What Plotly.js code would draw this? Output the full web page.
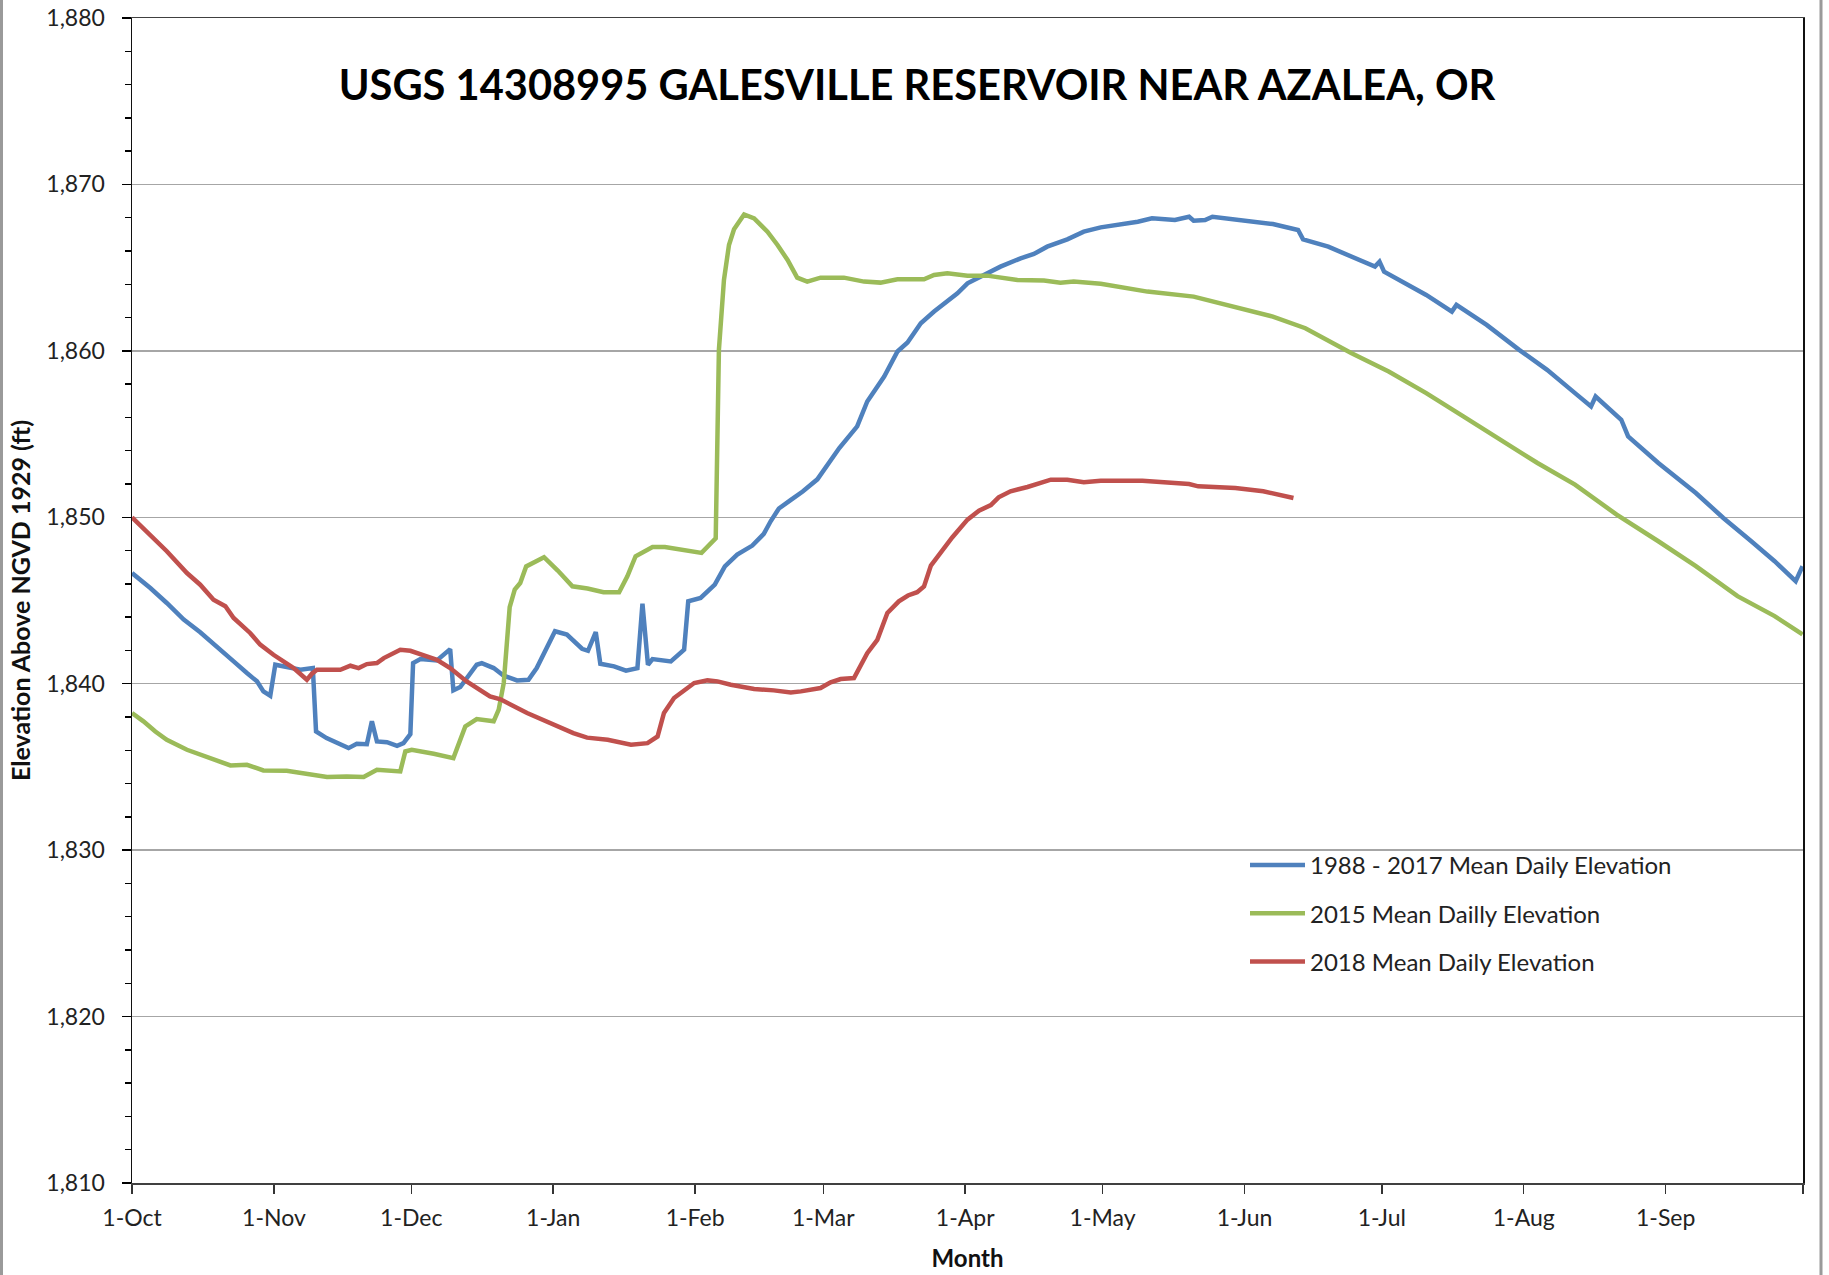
<!DOCTYPE html>
<html>
<head>
<meta charset="utf-8">
<script src="https://cdn.plot.ly/plotly-3.0.1.min.js"></script>
<style>html,body{margin:0;padding:0;background:#fff;}#chart{width:1829px;height:1275px;}</style>
</head>
<body>
<div id="chart"></div>
<script>
// Day of water year (0 = 1-Oct) and elevation (ft above NGVD 1929)
const monthTickDays = [0, 31, 61, 92, 123, 151, 182, 212, 243, 273, 304, 335, 365];
const monthTickLabels = ['1-Oct','1-Nov','1-Dec','1-Jan','1-Feb','1-Mar','1-Apr','1-May','1-Jun','1-Jul','1-Aug','1-Sep',''];

const seriesNames = ['1988 - 2017 Mean Daily Elevation', '2015 Mean Dailly Elevation', '2018 Mean Daily Elevation'];

const daysMean = [0,4,7.6,11.3,14.9,18.6,22.2,25.1,27.3,28.7,30.2,31.3,32.4,36.8,39.5,40.2,42.5,47.3,49.1,51.3,52.4,53.5,55.7,57.9,59.3,60.8,61.4,63,66.6,69.5,70.2,71.7,75.3,76.4,79,81.2,84.1,86.6,88.4,92.4,95,98.3,99.6,101.3,102.3,105.3,107.9,110.4,111.5,112.7,113.7,117.7,120.6,121.5,124.2,127.3,129.5,132.2,135.5,138,139.5,141.3,144,146.5,149.7,152.2,154.5,158.4,160.6,164.3,167.2,169.4,172.3,175.2,178.1,180.3,182.5,186.1,189.7,194.1,197,199.9,204.3,207.9,211.6,219.7,222.8,227.8,230.9,231.9,234.4,236,242.1,249.2,254.7,255.8,261.3,271.5,272.5,273.5,282.7,288.3,289.3,295.9,303,309.1,315.2,318.7,319.7,325.3,326.8,333.4,341.6,347.6,353.7,358.8,363.4,364.9];
const elevMean = [1846.65,1845.75,1844.85,1843.85,1843.09,1842.24,1841.34,1840.64,1840.14,1839.54,1839.28,1841.14,1841.08,1840.84,1840.94,1837.13,1836.73,1836.13,1836.39,1836.37,1837.74,1836.53,1836.49,1836.27,1836.43,1836.97,1841.24,1841.48,1841.4,1842.08,1839.6,1839.8,1841.14,1841.24,1840.94,1840.48,1840.2,1840.24,1840.94,1843.15,1842.95,1842.1,1841.98,1843.1,1841.2,1841.04,1840.78,1840.94,1844.81,1841.14,1841.48,1841.34,1842.04,1844.95,1845.15,1845.95,1847.05,1847.76,1848.3,1849.0,1849.76,1850.53,1851.06,1851.55,1852.28,1853.25,1854.16,1855.46,1856.96,1858.46,1859.96,1860.5,1861.66,1862.36,1862.96,1863.46,1864.06,1864.56,1865.06,1865.56,1865.82,1866.26,1866.7,1867.16,1867.42,1867.76,1867.96,1867.86,1868.06,1867.82,1867.86,1868.06,1867.86,1867.62,1867.26,1866.7,1866.26,1865.06,1865.36,1864.76,1863.36,1862.36,1862.76,1861.56,1860.06,1858.86,1857.46,1856.66,1857.26,1855.86,1854.86,1853.26,1851.46,1849.96,1848.56,1847.36,1846.16,1847.06];

const days2015 = [0,2.5,5.1,7.6,12,14.9,18.6,21.5,25.1,28.7,33.8,38.2,42.6,46.9,50.6,53.5,57.1,58.6,59.7,61.1,65.9,70.2,72.8,75.3,79,80.1,81.2,82.5,83.6,84.8,86.1,90,93,96.2,99.5,103,106.4,108.2,110,113.7,116.4,120.6,124.4,127.5,128.2,129.3,130.4,131.5,133.7,135.9,138.8,141,143.2,145.3,147.5,150.4,155.5,159.9,163.5,167.2,173,175.2,178.1,182.5,186.8,193.4,199.2,202.8,205.7,211.6,221.8,231.9,242.1,249.2,256.3,266.4,274.5,282.7,290.8,298.9,307,315.2,324.3,333.4,341.6,350.7,358.8,364.9];
const elev2015 = [1838.24,1837.74,1837.13,1836.63,1836.03,1835.73,1835.33,1835.09,1835.13,1834.79,1834.77,1834.59,1834.39,1834.43,1834.39,1834.83,1834.73,1834.73,1835.93,1836.03,1835.79,1835.53,1837.43,1837.88,1837.74,1838.44,1840.04,1844.6,1845.65,1846.05,1847.05,1847.6,1846.8,1845.85,1845.72,1845.5,1845.49,1846.45,1847.66,1848.22,1848.21,1848.02,1847.86,1848.73,1860.06,1864.26,1866.36,1867.3,1868.2,1867.96,1867.16,1866.36,1865.46,1864.4,1864.16,1864.4,1864.4,1864.16,1864.1,1864.3,1864.3,1864.56,1864.66,1864.52,1864.52,1864.26,1864.22,1864.1,1864.16,1864.03,1863.56,1863.26,1862.56,1862.06,1861.36,1859.86,1858.76,1857.46,1856.06,1854.66,1853.26,1851.96,1850.16,1848.56,1847.06,1845.26,1844.06,1842.96];

const days2018 = [0,4.7,7.6,12,14.9,17.8,20.4,22.2,25.8,28,30.9,35.3,38.2,39.3,40.4,45.5,47.7,49.5,51.3,53.5,55,58.6,60.8,64.4,66.6,69.5,73.1,78.2,80.5,86.3,91.4,96.4,99.4,103.9,109,112.6,114.8,116.2,118.4,122.8,125.7,127.9,130.8,135.9,140.2,143.9,146.1,150.4,152.6,154.8,157.7,160.6,162.8,165,167.5,169.5,171.5,173,174.5,176.6,179.2,182.5,185,187.6,189.3,191.9,195.6,200.7,204.3,207.9,211.6,220.7,230.9,232.9,241,247.1,253.7];
const elev2018 = [1850.0,1848.76,1847.96,1846.65,1845.95,1845.05,1844.65,1843.95,1843.05,1842.35,1841.74,1840.94,1840.24,1840.6,1840.84,1840.84,1841.08,1840.94,1841.18,1841.24,1841.54,1842.04,1841.98,1841.64,1841.44,1840.94,1840.14,1839.24,1839.06,1838.24,1837.64,1837.03,1836.76,1836.63,1836.33,1836.43,1836.83,1838.24,1839.14,1840.04,1840.2,1840.14,1839.94,1839.68,1839.6,1839.48,1839.54,1839.74,1840.08,1840.28,1840.34,1841.84,1842.64,1844.25,1844.95,1845.3,1845.5,1845.85,1847.1,1847.86,1848.8,1849.86,1850.4,1850.73,1851.2,1851.56,1851.82,1852.26,1852.26,1852.1,1852.2,1852.2,1852.0,1851.86,1851.76,1851.56,1851.16];

const colors = ['#4F81BD', '#9BBB59', '#C0504D'];
const FONT = 'Lato, "Open Sans", sans-serif';

const traces = [
  {x: daysMean, y: elevMean, name: seriesNames[0], legendgroup: 'a'},
  {x: days2015, y: elev2015, name: seriesNames[1], legendgroup: 'b'},
  {x: days2018, y: elev2018, name: seriesNames[2], legendgroup: 'c'}
].map((t, i) => Object.assign(t, {type: 'scatter', mode: 'lines', line: {color: colors[i], width: 4.5}, hoverinfo: 'skip'}));

const L = 132, R = 26, T = 18, B = 92;
const W = 1829, H = 1275;
const pw = W - L - R, ph = H - T - B;

const layout = {
  width: W, height: H,
  margin: {l: L, r: R, t: T, b: B, pad: 0},
  paper_bgcolor: '#fff', plot_bgcolor: '#fff',
  font: {family: FONT, size: 23, color: '#222'},
  title: {
    text: '<b>USGS 14308995 GALESVILLE RESERVOIR NEAR AZALEA, OR</b>',
    font: {family: FONT, size: 41.6, color: '#000'},
    xref: 'container', x: 917 / W, xanchor: 'center',
    yref: 'container', y: 1 - 85 / H, yanchor: 'middle'
  },
  xaxis: {
    range: [0, 365],
    tickmode: 'array', tickvals: monthTickDays, ticktext: monthTickLabels,
    ticks: 'outside', ticklen: 9, tickwidth: 1.5, tickcolor: '#333',
    showline: true, linecolor: '#404040', linewidth: 1.5, mirror: true,
    showgrid: false, zeroline: false,
    ticklabelstandoff: 5,
    tickfont: {family: FONT, size: 23, color: '#222'},
    title: {text: '<b>Month</b>', font: {family: FONT, size: 24, color: '#111'}, standoff: 20}
  },
  yaxis: {
    range: [1810, 1880], dtick: 10, tick0: 1810, tickformat: ',d',
    ticks: 'outside', ticklen: 9, tickwidth: 1.5, tickcolor: '#000',
    minor: {dtick: 2, ticks: 'outside', ticklen: 6, tickwidth: 1.5, tickcolor: '#000', showgrid: false},
    showline: true, linecolor: '#111', linewidth: 1.5, mirror: true,
    showgrid: true, gridcolor: '#a6a6a6', gridwidth: 1.5, zeroline: false,
    ticklabelstandoff: 12,
    tickfont: {family: FONT, size: 23, color: '#222'},
    title: {text: '<b>Elevation Above NGVD 1929 (ft)</b>', font: {family: FONT, size: 25, color: '#111'}, standoff: 8}
  },
  legend: {
    x: (1245 - L) / pw, xanchor: 'left',
    y: (H - B - 843) / ph, yanchor: 'top',
    bgcolor: 'rgba(0,0,0,0)', borderwidth: 0,
    font: {family: FONT, size: 24, color: '#222'},
    itemwidth: 55, tracegroupgap: 14, traceorder: 'grouped'
  },
  shapes: [
    {type: 'line', xref: 'paper', yref: 'paper', x0: (1.5 - L) / pw, x1: (1.5 - L) / pw, y0: -B / ph, y1: 1 + T / ph, line: {color: '#9a9a9a', width: 3}},
    {type: 'line', xref: 'paper', yref: 'paper', x0: (1821 - L) / pw, x1: (1821 - L) / pw, y0: -B / ph, y1: 1 + T / ph, line: {color: '#9a9a9a', width: 3}}
  ],
  showlegend: true
};

Plotly.newPlot('chart', traces, layout, {staticPlot: true, displayModeBar: false});
</script>
</body>
</html>
